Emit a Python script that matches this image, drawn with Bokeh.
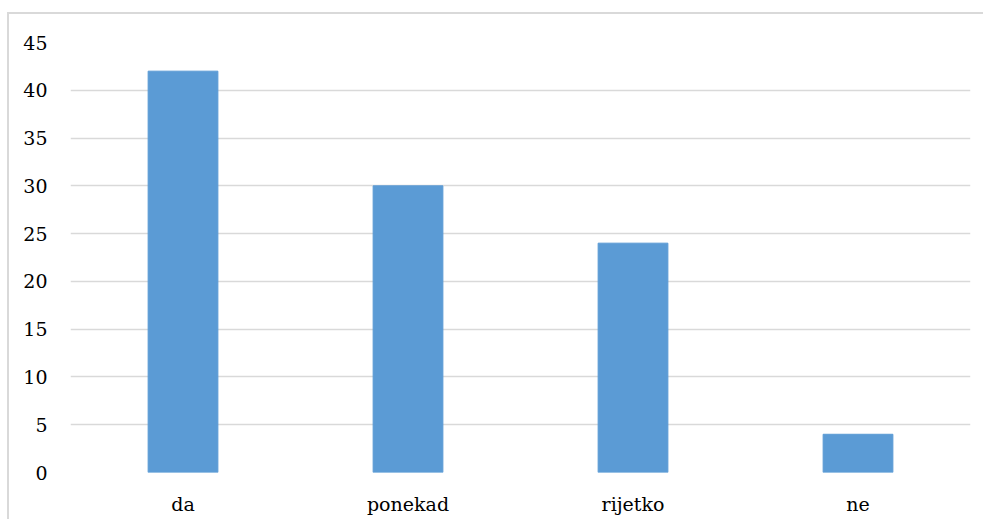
from bokeh.plotting import figure
from bokeh.models import Range1d, FixedTicker
from bokeh.embed import file_html
from bokeh.resources import INLINE

categories = ["da", "ponekad", "rijetko", "ne"]
values = [42, 30, 24, 4]
y_ticks = [0, 5, 10, 15, 20, 25, 30, 35, 40, 45]

p = figure(x_range=categories, y_range=Range1d(0, 45), width=976, height=507,
           output_backend="svg", toolbar_location=None,
           min_border_left=61, min_border_right=15, min_border_top=28, min_border_bottom=49)
p.margin = (12, 0, 0, 7)
p.styles = {"border-top": "2px solid #d9d9d9", "border-left": "2px solid #d9d9d9"}

p.vbar(x=categories, top=values, width=0.31, color="#5B9BD5", line_color="#5B9BD5")

p.outline_line_color = None
p.xgrid.grid_line_color = None
p.ygrid.grid_line_color = "#d9d9d9"
p.ygrid.grid_line_width = 1.5
p.yaxis.ticker = FixedTicker(ticks=y_ticks)

p.xaxis.axis_line_color = None
p.yaxis.axis_line_color = None
p.xaxis.major_tick_line_color = None
p.yaxis.major_tick_line_color = None
p.xaxis.minor_tick_line_color = None
p.yaxis.minor_tick_line_color = None
p.xaxis.major_label_text_font = "DejaVu Serif"
p.yaxis.major_label_text_font = "DejaVu Serif"
p.xaxis.major_label_text_font_size = "19px"
p.yaxis.major_label_text_font_size = "19px"
p.xaxis.major_label_text_color = "#000000"
p.yaxis.major_label_text_color = "#000000"

p.yaxis.major_label_standoff = 17
p.xaxis.major_label_standoff = 14

open("out.html", "w").write(file_html(p, INLINE))
